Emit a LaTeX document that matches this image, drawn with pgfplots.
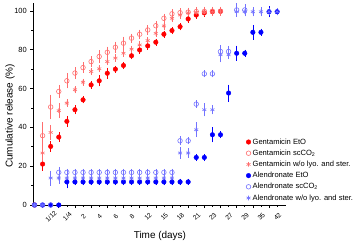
\documentclass[border=0pt]{standalone}
\usepackage{pgfplots}
\pgfplotsset{compat=1.18}
\usepackage{pgfplotstable}
\usepackage{fontspec}
\setmainfont{Liberation Sans}
\definecolor{lred}{RGB}{255,110,110}
\definecolor{lblue}{RGB}{115,115,255}

\pgfplotstableread{
x y e
0 0 0
1 21.1 2.5
2 30.2 2
3 35.0 1.5
4 43.1 2
5 49.1 1.5
6 54.2 1
7 61.9 1
8 64.0 2
9 67.9 2
10 70.0 1
11 71.9 1
12 76.9 1
13 79.9 1
14 82.0 1
15 83.9 1
16 88.0 1
17 89.9 1
18 91.9 1
19 95.9 1
20 97.9 1
21 99.0 1
22 99.6 1
23 99.8 1
}\GE

\pgfplotstableread{
x y e
0 0 0
1 35.7 6
2 50.5 5.5
3 58.5 2.5
4 64.0 3
5 68.0 2
6 70.8 2
7 73.9 2
8 76.5 2.5
9 78.7 2
10 81.3 2
11 83.4 2.5
12 86.0 1.5
13 88.0 1.5
14 90.2 1.5
15 92.4 1.5
16 96.2 1.5
17 98.5 1.5
18 99.1 1.5
19 99.4 1.5
20 99.7 1.5
21 99.8 1.5
22 99.9 1.5
23 99.9 1.5
}\GS

\pgfplotstableread{
x y e
0 0 0
1 26.8 4
2 37.4 3
3 48.6 3
4 52.5 1
5 59.4 1
6 63.3 1
7 68.8 1
8 70.2 1
9 73.9 1
10 75.7 1
11 78.2 1
12 80.3 1
13 82.5 1
14 84.7 1
15 88.5 1
16 92.3 1
17 96.2 1
18 97.9 1
19 99.0 1
20 99.3 1
21 99.5 1
22 99.7 1
23 99.8 1
}\GW

\pgfplotstableread{
x y e
0 0 0
1 0 0
2 0 0
3 0 0
4 11.9 2.5
5 11.9 0.8
6 11.9 0.8
7 11.9 0.8
8 11.9 0.8
9 11.9 0.8
10 11.9 0.8
11 11.9 0.8
12 11.9 0.8
13 11.9 0.8
14 11.9 0.8
15 11.9 0.8
16 11.9 0.8
17 11.9 0.8
18 11.9 0.8
19 11.9 0.8
20 24.5 1
21 24.5 1
22 36.2 3
23 36.2 1
24 57.7 3.5
25 78.2 3
26 78.2 1
27 89.0 3
28 89.0 1
29 99.6 2
30 99.6 1
}\AE

\pgfplotstableread{
x y e
0 0 0
1 0 0
2 0 0
3 16.8 2
4 16.8 1
5 16.8 1
6 16.8 1
7 16.8 1
8 16.8 1
9 16.8 1
10 16.8 1
11 16.8 1
12 16.8 1
13 16.8 1
14 16.8 1
15 16.8 1
16 16.8 1
17 16.8 1
18 33.1 1.5
19 33.1 1
20 52.0 1
21 67.6 1
22 67.6 1
23 79.1 2.5
24 79.1 2
25 100.5 2.5
26 100.5 2
}\AS

\pgfplotstableread{
x y e
0 0 0
1 0 0
2 13.9 3
3 13.9 2
4 13.9 1.5
5 13.9 1.5
6 13.9 1.5
7 13.9 1.5
8 13.9 1.5
9 13.9 1.5
10 13.9 1.5
11 13.9 1.5
12 13.9 1.5
13 13.9 1.5
14 13.9 1.5
15 13.9 1.5
16 13.9 1.5
17 13.9 1.5
18 26.8 2
19 26.8 1.5
20 38.8 3
21 49.1 2.5
22 49.1 1.5
23 77.4 3
24 77.4 1.5
25 99.6 1.5
26 99.6 1.5
27 99.6 1.5
28 99.6 1.5
29 99.6 1
30 99.6 1
}\AW

\begin{document}
\begin{tikzpicture}
\useasboundingbox (0,0) rectangle (359bp,244bp);
\begin{axis}[
  at={(33.3bp,39bp)}, anchor=south west,
  scale only axis, width=252.7bp, height=202bp,
  xmin=-0.15, xmax=31.1, ymin=0, ymax=104.1,
  axis x line*=bottom, axis y line*=left,
  axis line style={-, line width=0.6bp},
  clip=false,
  xtick={1,3,...,29},
  xticklabels={1/12,1/4,2,4,6,8,12,15,18,21,23,27,29,35,42},
  minor xtick={0,2,...,30},
  ytick={0,20,...,100}, minor ytick={10,30,...,90},
  tick align=outside, major tick length=3bp, minor tick length=2bp,
  tick style={black, line width=0.6bp},
  /pgf/number format/assume math mode=true,
  xticklabel style={rotate=45, anchor=center, yshift=-12bp, inner sep=0pt, font=\fontsize{6.6}{7}\selectfont},
  yticklabel style={font=\fontsize{7.5}{9}\selectfont},
  xlabel={Time (days)}, ylabel={Cumulative release (\%)},
  xlabel style={at={(axis description cs:0.501,-0.155)}, anchor=center, font=\fontsize{10}{12}\selectfont},
  ylabel style={at={(axis description cs:-0.092,0.44)}, anchor=center, font=\fontsize{10}{12}\selectfont},
  legend style={draw=none, fill=none, at={(0.83,0.345)}, anchor=north west,
    font=\fontsize{7.6}{8.5}\selectfont, row sep=2.2bp,
    nodes={inner ysep=0.8bp, inner xsep=1.8bp, text height=5.7bp, text depth=1.7bp}},
  legend cell align=left,
  error bars/error bar style={line width=0.5bp},
  error bars/error mark options={mark size=1.7bp, line width=0.5bp},
]
\addplot[only marks, mark=*, color=red, mark size=2.3bp,
  error bars/.cd, y dir=both, y explicit]
  table[x=x, y=y, y error=e]{\GE};
\addlegendentry{Gentamicin EtO}
\addplot[only marks, mark=o, color=lred, mark size=2.3bp, mark options={line width=0.6bp},
  error bars/.cd, y dir=both, y explicit]
  table[x=x, y=y, y error=e]{\GS};
\addlegendentry{Gentamicin scCO\textsubscript{2}}
\addplot[only marks, mark=asterisk, color=lred, mark size=2.3bp, mark options={line width=0.6bp},
  error bars/.cd, y dir=both, y explicit]
  table[x=x, y=y, y error=e]{\GW};
\addlegendentry{Gentamicin w/o lyo. and ster.}
\addplot[only marks, mark=*, color=blue, mark size=2.3bp,
  error bars/.cd, y dir=both, y explicit]
  table[x=x, y=y, y error=e]{\AE};
\addlegendentry{Alendronate EtO}
\addplot[only marks, mark=o, color=lblue, mark size=2.3bp, mark options={line width=0.6bp},
  error bars/.cd, y dir=both, y explicit]
  table[x=x, y=y, y error=e]{\AS};
\addlegendentry{Alendronate scCO\textsubscript{2}}
\addplot[only marks, mark=asterisk, color=lblue, mark size=2.3bp, mark options={line width=0.6bp},
  error bars/.cd, y dir=both, y explicit]
  table[x=x, y=y, y error=e]{\AW};
\addlegendentry{Alendronate w/o lyo. and ster.}
\end{axis}
\end{tikzpicture}
\end{document}
